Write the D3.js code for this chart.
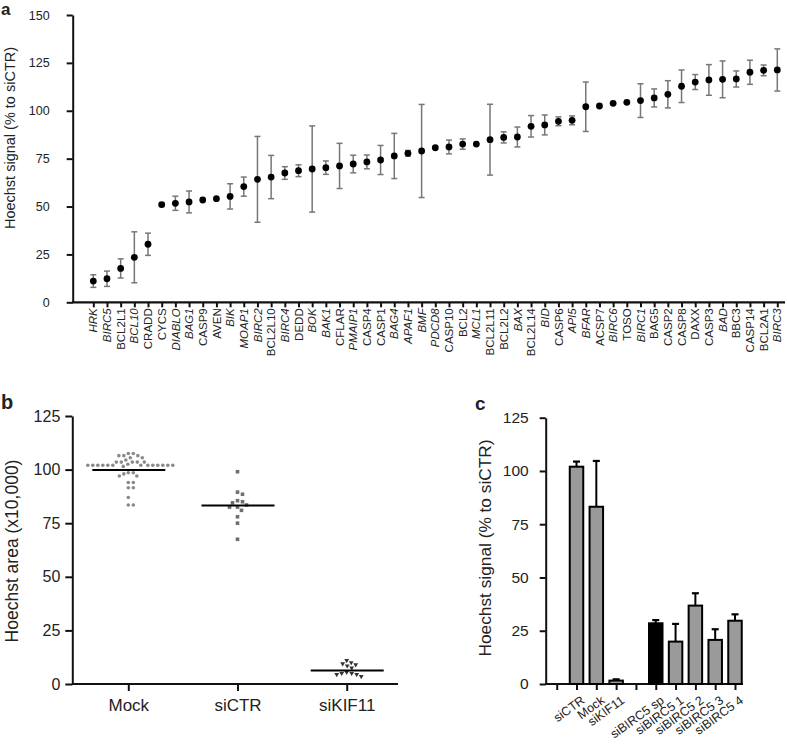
<!DOCTYPE html>
<html><head><meta charset="utf-8">
<script src="https://cdn.jsdelivr.net/npm/d3@7"></script>
<style>
body{margin:0;background:#fff}
text{font-family:"Liberation Sans",Arial,sans-serif;fill:#222}
</style>
</head><body>
<svg id="fig" width="787" height="744"></svg>
<script>
// ---------- Panel a data ----------
const genes = ["HRK","BIRC5","BCL2L1","BCL10","CRADD","CYCS","DIABLO","BAG1","CASP9","AVEN","BIK","MOAP1","BIRC2","BCL2L10","BIRC4","DEDD","BOK","BAK1","CFLAR","PMAIP1","CASP4","CASP1","BAG4","APAF1","BMF","PDCD8","CASP10","BCL2","MCL1","BCL2L11","BCL2L2","BAX","BCL2L14","BID","CASP6","API5","BFAR","ACSP7","BIRC6","TOSO","BIRC1","BAG5","CASP2","CASP8","DAXX","CASP3","BAD","BBC3","CASP14","BCL2A1","BIRC3"];
const geneMeans = [11.1,12.3,17.7,23.5,30.3,51.0,51.7,52.4,53.4,54.1,55.3,60.4,64.2,65.4,67.5,68.7,69.6,70.3,71.2,72.2,73.3,74.3,76.4,77.8,79.0,80.7,81.1,82.6,82.6,84.9,86.1,86.3,91.9,92.6,94.5,95.0,102.1,102.5,103.9,104.4,105.3,106.7,108.6,112.8,115.0,116.1,116.4,116.6,120.1,121.1,121.3];
const geneErrors = [3.3,4.0,5.0,13.3,5.8,1.0,3.7,5.7,0,0,6.6,5.0,22.4,11.3,3.3,3.1,22.5,3.5,11.8,4.6,3.6,7.6,11.8,1.5,24.3,0,3.6,2.7,0,18.5,2.9,5.2,5.6,5.2,2.3,2.3,12.9,0,0,0,8.8,4.7,7.1,8.5,3.9,8.0,9.6,4.2,6.3,2.8,11.0];
const italicGenes = ["HRK","BIRC5","BCL10","DIABLO","BAG1","BIK","MOAP1","BIRC2","BIRC4","BOK","BAK1","PMAIP1","BAG4","APAF1","BMF","PDCD8","MCL1","BAX","BID","API5","BFAR","BIRC6","BIRC1","BAD","BIRC3"];
const aTicks = [0,25,50,75,100,125,150];

// ---------- Panel b data ----------
const bGroups = ["Mock","siCTR","siKIF11"];
const bMock = [107.5,107.5,106.5,106.5,106.5,105.5,105.5,104.5,103.5,103.5,103.5,103.5,103.5,102.5,102,102,102,102,102,102,102,102,102,102,102,102,102,101.5,98.5,98.5,98,97,97,94,94,91.5,91.5,87,83.5,83.5];
const bSiCTR = [99,89.5,88.5,85.5,85,84.5,83.5,82.5,82.5,81,78,75,67.5];
const bSiKIF11 = [11,10,9.5,9,8.5,7.5,5.5,5,5,4.5,4.5,3.5];
const bCenterLines = [99.8,83.2,6.3];
const bTicks = [0,25,50,75,100,125];

// ---------- Panel c data ----------
const cLabels = ["","siCTR","Mock","siKIF11","","siBIRC5 sp","siBIRC5 1","siBIRC5 2","siBIRC5 3","siBIRC5 4"];
const cValues = [null,102.0,83.2,1.6,null,28.5,19.9,36.8,20.7,29.7];
const cErrors = [null,2.4,21.5,0.6,null,1.5,8.3,5.8,5.0,3.0];
const cHighlight = ["siBIRC5 sp"];
const cTicks = [0,25,50,75,100,125];

const svg = d3.select("#fig");

function styleAxis(g, w){
  g.selectAll("path.domain").attr("stroke","#111").attr("stroke-width",w);
  g.selectAll(".tick line").attr("stroke","#111").attr("stroke-width",w);
}

// ================= Panel a =================
{
  const x = d3.scalePoint().domain(genes).range([93.3, 777.3]);
  const y = d3.scaleLinear().domain([0,150]).range([302.3, 15]);
  const g = svg.append("g");
  const ya = g.append("g").attr("transform","translate(72.7,0)")
    .call(d3.axisLeft(y).tickValues(aTicks).tickSize(6).tickSizeOuter(0).tickPadding(17));
  styleAxis(ya, 2);
  ya.selectAll("text").attr("font-size",12.5).attr("fill","#222");
  g.append("line").attr("x1",72).attr("x2",785).attr("y1",y(0)).attr("y2",y(0))
    .attr("stroke","#111").attr("stroke-width",2.2);
  const xa = g.append("g").attr("transform",`translate(0,${y(0)})`)
    .call(d3.axisBottom(x).tickSize(5).tickSizeOuter(0).tickFormat(""));
  xa.select("path.domain").remove();
  xa.selectAll(".tick line").attr("stroke","#111").attr("stroke-width",2);
  g.selectAll("text.glab").data(genes).join("text").attr("class","glab")
    .attr("transform",d=>`translate(${x(d)},${y(0)+6}) rotate(-90)`)
    .attr("text-anchor","end").attr("dy","0.36em")
    .attr("font-size",11.5)
    .attr("font-style",d=>italicGenes.includes(d)?"italic":"normal")
    .text(d=>d);
  const eg = g.append("g").attr("stroke","#777").attr("stroke-width",1.5);
  genes.forEach((gname,i)=>{
    const e = geneErrors[i]; if(!e) return;
    const cx = x(gname), m = geneMeans[i];
    eg.append("line").attr("x1",cx).attr("x2",cx).attr("y1",y(m-e)).attr("y2",y(m+e));
    eg.append("line").attr("x1",cx-3).attr("x2",cx+3).attr("y1",y(m-e)).attr("y2",y(m-e));
    eg.append("line").attr("x1",cx-3).attr("x2",cx+3).attr("y1",y(m+e)).attr("y2",y(m+e));
  });
  g.selectAll("circle.pt").data(genes).join("circle").attr("class","pt")
    .attr("cx",d=>x(d)).attr("cy",(d,i)=>y(geneMeans[i])).attr("r",3.4).attr("fill","#000");
  g.append("text").attr("transform","translate(15,138) rotate(-90)")
    .attr("text-anchor","middle").attr("font-size",14.5).text("Hoechst signal (% to siCTR)");
  g.append("text").attr("x",1).attr("y",15).attr("font-size",17).attr("font-weight","bold").attr("fill","#000").text("a");
}

// ================= Panel b =================
{
  const x = d3.scalePoint().domain(bGroups).range([128.3, 346.7]);
  const y = d3.scaleLinear().domain([0,125]).range([684, 416]);
  const g = svg.append("g");
  const ya = g.append("g").attr("transform","translate(72.3,0)")
    .call(d3.axisLeft(y).tickValues(bTicks).tickSize(7).tickSizeOuter(0).tickPadding(5));
  styleAxis(ya, 2);
  ya.selectAll("text").attr("font-size",16).attr("fill","#222");
  g.append("line").attr("x1",72).attr("x2",398).attr("y1",y(0)).attr("y2",y(0))
    .attr("stroke","#111").attr("stroke-width",2.2);
  const xa = g.append("g").attr("transform",`translate(0,${y(0)})`)
    .call(d3.axisBottom(x).tickSize(7).tickSizeOuter(0).tickPadding(8));
  xa.select("path.domain").remove();
  xa.selectAll(".tick line").attr("stroke","#111").attr("stroke-width",2);
  xa.selectAll("text").attr("font-size",17).attr("fill","#222");

  function swarm(vals, cx, minDist){
    const placed = [];
    const sorted = vals.map(v=>({v, py:y(v)})).sort((a,b)=>a.py-b.py);
    sorted.forEach(p=>{
      let best = cx;
      for(let k=0;k<400;k++){
        const off = (k===0?0:(k%2? 1:-1)*Math.ceil(k/2)*0.5);
        const px = cx+off;
        if(placed.every(q=>Math.hypot(q.px-px,q.py-p.py)>=minDist)){best=px;break;}
      }
      p.px = best; placed.push(p);
    });
    return placed;
  }
  const mock = swarm(bMock, x("Mock"), 4.6);
  g.selectAll("circle.mk").data(mock).join("circle").attr("class","mk")
    .attr("cx",d=>d.px).attr("cy",d=>d.py).attr("r",1.8).attr("fill","#8a8a8a");
  const sictr = swarm(bSiCTR, x("siCTR"), 5);
  g.selectAll("rect.sq").data(sictr).join("rect").attr("class","sq")
    .attr("x",d=>d.px-1.8).attr("y",d=>d.py-1.8).attr("width",3.6).attr("height",3.6).attr("fill","#6f6f6f");
  const kif = swarm(bSiKIF11, x("siKIF11"), 4.8);
  const tri = d3.symbol().type(d3.symbolTriangle).size(10);
  g.selectAll("path.tr").data(kif).join("path").attr("class","tr")
    .attr("transform",d=>`translate(${d.px},${d.py}) rotate(180)`).attr("d",tri).attr("fill","#333");
  g.selectAll("line.cl").data(bGroups).join("line").attr("class","cl")
    .attr("x1",d=>x(d)-36).attr("x2",d=>x(d)+37)
    .attr("y1",(d,i)=>y(bCenterLines[i])).attr("y2",(d,i)=>y(bCenterLines[i]))
    .attr("stroke","#000").attr("stroke-width",2);
  g.append("text").attr("transform","translate(18,551) rotate(-90)")
    .attr("text-anchor","middle").attr("font-size",17.5).text("Hoechst area (x10,000)");
  g.append("text").attr("x",1).attr("y",409).attr("font-size",20).attr("font-weight","bold").attr("fill","#000").text("b");
}

// ================= Panel c =================
{
  const idx = d3.range(cLabels.length);
  const x = d3.scalePoint().domain(idx).range([556.7, 735]);
  const y = d3.scaleLinear().domain([0,125]).range([684, 417.7]);
  const g = svg.append("g");
  const ya = g.append("g").attr("transform","translate(545.7,0)")
    .call(d3.axisLeft(y).tickValues(cTicks).tickSize(6).tickSizeOuter(0).tickPadding(11));
  styleAxis(ya, 2);
  ya.selectAll("text").attr("font-size",15.5).attr("fill","#222");
  g.append("line").attr("x1",545).attr("x2",743).attr("y1",y(0)).attr("y2",y(0))
    .attr("stroke","#111").attr("stroke-width",2.2);
  const xa = g.append("g").attr("transform",`translate(0,${y(0)})`)
    .call(d3.axisBottom(x).tickSize(6).tickSizeOuter(0).tickFormat(""));
  xa.select("path.domain").remove();
  xa.selectAll(".tick line").attr("stroke","#111").attr("stroke-width",2);
  const bw = 13.5;
  const data = idx.filter(i=>cValues[i]!=null);
  data.forEach(i=>{
    const cx = x(i), top = y(cValues[i]+cErrors[i]);
    g.append("line").attr("x1",cx).attr("x2",cx).attr("y1",y(cValues[i])).attr("y2",top).attr("stroke","#000").attr("stroke-width",2);
    g.append("line").attr("x1",cx-3.5).attr("x2",cx+3.5).attr("y1",top).attr("y2",top).attr("stroke","#000").attr("stroke-width",2.2);
  });
  g.selectAll("rect.bar").data(data).join("rect").attr("class","bar")
    .attr("x",i=>x(i)-bw/2).attr("width",bw)
    .attr("y",i=>y(cValues[i])).attr("height",i=>y(0)-y(cValues[i]))
    .attr("fill",i=>cHighlight.includes(cLabels[i])?"#000":"#9a9a9a")
    .attr("stroke","#000").attr("stroke-width",2);
  g.selectAll("text.cl").data(idx.filter(i=>cLabels[i])).join("text").attr("class","cl")
    .attr("transform",i=>`translate(${x(i)+4},${y(0)+11}) rotate(-36)`)
    .attr("text-anchor","end").attr("dy","0.7em").attr("font-size",12.5)
    .text(i=>cLabels[i]);
  g.append("text").attr("transform","translate(491,548) rotate(-90)")
    .attr("text-anchor","middle").attr("font-size",17.3).text("Hoechst signal (% to siCTR)");
  g.append("text").attr("x",475).attr("y",410).attr("font-size",19).attr("font-weight","bold").attr("fill","#000").text("c");
}
</script>
</body></html>
